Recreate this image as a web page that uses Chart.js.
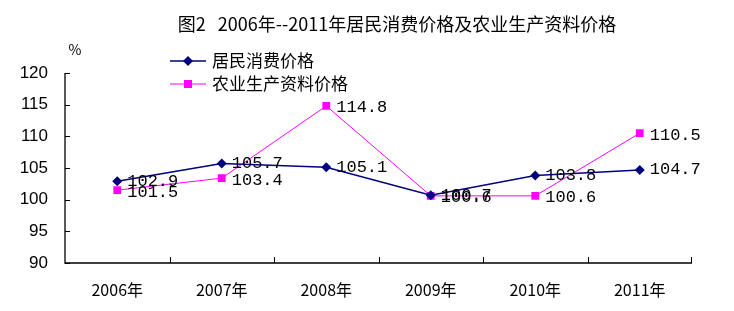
<!DOCTYPE html>
<html><head><meta charset="utf-8">
<script src="https://cdn.jsdelivr.net/npm/chart.js@4.4.1/dist/chart.umd.min.js"></script>
<style>html,body{margin:0;padding:0;background:#fff}#wrap{width:734px;height:311px}</style>
</head><body><div id="wrap"><canvas id="c"></canvas></div>
<script>
const titleText = '图2   2006年--2011年居民消费价格及农业生产资料价格';
const categories = ['2006年','2007年','2008年','2009年','2010年','2011年'];
const cpiName = '居民消费价格';
const cpiValues = [102.9, 105.7, 105.1, 100.7, 103.8, 104.7];
const agriName = '农业生产资料价格';
const agriValues = [101.5, 103.4, 114.8, 100.6, 100.6, 110.5];
const yTicks = [90, 95, 100, 105, 110, 115, 120];
const yUnit = '%';

const CJK = '"Noto Sans CJK SC", sans-serif';
const NUM = '"Liberation Mono", monospace';

const decor = {
  id: 'decor',
  afterDraw(chart) {
    const ctx = chart.ctx, a = chart.chartArea;
    const xs = chart.scales.x, ys = chart.scales.y;
    ctx.save();
    // axes
    ctx.strokeStyle = '#000'; ctx.lineWidth = 1.3;
    ctx.beginPath();
    ctx.moveTo(a.left, a.top); ctx.lineTo(a.left, a.bottom); ctx.lineTo(a.right, a.bottom);
    ctx.stroke();
    ctx.lineWidth = 1;
    ctx.beginPath();
    yTicks.forEach(v => { const y = Math.round(ys.getPixelForValue(v)) + 0.5; ctx.moveTo(a.left, y); ctx.lineTo(a.left + 5, y); });
    for (let i = 0; i < categories.length; i++) {
      const x = Math.round((xs.getPixelForValue(i) + xs.getPixelForValue(i + 1)) / 2) + 0.5;
      const xx = i === categories.length - 1 ? a.right - 0.5 : x;
      ctx.moveTo(xx, a.bottom); ctx.lineTo(xx, a.bottom - 6);
    }
    ctx.stroke();
    // title
    ctx.fillStyle = '#000';
    ctx.font = '18px ' + CJK; ctx.textAlign = 'center'; ctx.textBaseline = 'middle';
    ctx.fillText(titleText, 397, 24);
    ctx.font = '14px ' + CJK;
    ctx.fillText(yUnit, 75, 50);
    // legend
    const ds = chart.data.datasets;
    [[0, 61], [1, 84]].forEach(([i, ly]) => {
      const d = ds[i];
      ctx.strokeStyle = d.borderColor; ctx.lineWidth = d.borderWidth;
      ctx.beginPath(); ctx.moveTo(170, ly); ctx.lineTo(206, ly); ctx.stroke();
      ctx.fillStyle = d.backgroundColor;
      if (i === 0) {
        ctx.beginPath(); ctx.moveTo(188, ly - 5); ctx.lineTo(193, ly); ctx.lineTo(188, ly + 5); ctx.lineTo(183, ly); ctx.closePath(); ctx.fill();
      } else {
        ctx.fillRect(184, ly - 4, 8, 8);
      }
      ctx.fillStyle = '#000'; ctx.font = '17px ' + CJK; ctx.textAlign = 'left';
      ctx.fillText(d.label, 212, ly);
    });
    // data labels
    ctx.font = '17px ' + NUM; ctx.textAlign = 'left'; ctx.textBaseline = 'middle'; ctx.fillStyle = '#000';
    ds.forEach((d, i) => {
      chart.getDatasetMeta(i).data.forEach((pt, j) => {
        ctx.fillText(d.data[j].toFixed(1), pt.x + 10, pt.y + (i === 1 ? 2 : 0));
      });
    });
    ctx.restore();
  }
};

new Chart(document.getElementById('c'), {
  type: 'line',
  data: {
    labels: categories,
    datasets: [
      { label: cpiName, data: cpiValues, borderColor: '#000080', backgroundColor: '#000080', borderWidth: 1.5,
        pointStyle: 'rectRot', pointRadius: 5, pointBorderWidth: 0, tension: 0 },
      { label: agriName, data: agriValues, borderColor: '#FF00FF', backgroundColor: '#FF00FF', borderWidth: 1,
        pointStyle: 'rect', pointRadius: 5.5, pointBorderWidth: 0, tension: 0 }
    ]
  },
  options: {
    responsive: true, maintainAspectRatio: false, animation: false,
    layout: { padding: { left: 0, right: 42, top: 73, bottom: 0 } },
    plugins: { legend: { display: false }, title: { display: false }, tooltip: { enabled: false } },
    scales: {
      x: {
        offset: true,
        grid: { display: false }, border: { display: false },
        ticks: { color: '#000', font: { family: CJK, size: 16 }, padding: 9, maxRotation: 0 },
        afterFit(s) { s.height = 48; }
      },
      y: {
        min: 90, max: 120,
        grid: { display: false }, border: { display: false },
        afterBuildTicks(s) { s.ticks = yTicks.map(v => ({ value: v })); },
        ticks: { color: '#000', font: { family: 'Liberation Sans', size: 17 }, padding: 9 },
        afterFit(s) { s.width = 65; }
      }
    }
  },
  plugins: [decor]
});
</script></body></html>
